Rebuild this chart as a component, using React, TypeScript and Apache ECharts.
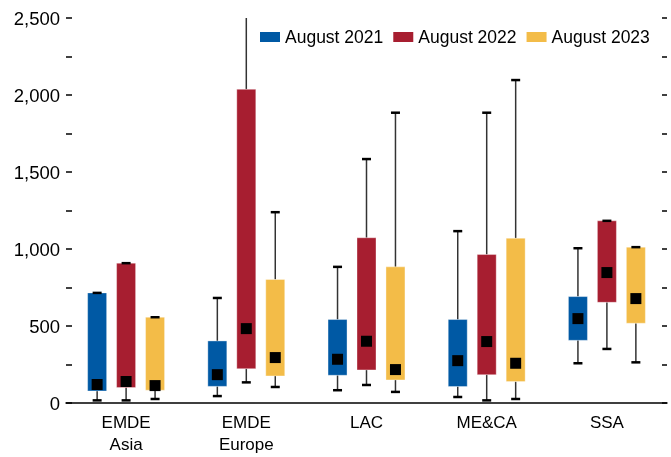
import React, { useEffect, useRef } from "react";
import * as echarts from "echarts";

const categories = ["EMDE\nAsia", "EMDE\nEurope", "LAC", "ME&CA", "SSA"];
const seriesNames = ["August 2021", "August 2022", "August 2023"];
const seriesColors = ["#0059A4", "#A71E30", "#F3BC48"];

// each row: [min, q1, median, q3, max]
const aug2021 = [
  [17, 78, 120, 715, 715],
  [45, 108, 184, 403, 682],
  [83, 180, 284, 542, 884],
  [39, 107, 275, 542, 1116],
  [258, 407, 548, 691, 1005],
];
const aug2022 = [
  [17, 100, 139, 908, 908],
  [134, 223, 483, 2037, 2600],
  [117, 215, 401, 1073, 1584],
  [17, 184, 399, 964, 1885],
  [351, 654, 847, 1183, 1183],
];
const aug2023 = [
  [26, 83, 113, 557, 557],
  [104, 176, 295, 802, 1239],
  [72, 150, 217, 884, 1885],
  [26, 139, 258, 1070, 2097],
  [264, 518, 678, 1012, 1012],
];
const seriesData = [aug2021, aug2022, aug2023];

const Y_MIN = 0;
const Y_MAX = 2500;
const Y_STEP = 250;
const LABEL_STEP = 500;

const FONT = "'Liberation Sans', Arial, sans-serif";

function makeRender(seriesIdx: number, color: string) {
  return (params: any, api: any) => {
    const cat = api.value(0);
    const mn = api.value(1);
    const q1 = api.value(2);
    const med = api.value(3);
    const q3 = api.value(4);
    const mx = api.value(5);
    const bandW = api.size([1, 0])[0];
    const offset = (seriesIdx - 1) * bandW * 0.241;
    const boxW = bandW * 0.158;
    const cx = api.coord([cat, 0])[0] + offset;
    const y = (v: number) => api.coord([cat, Math.min(v, Y_MAX)])[1];
    const capW = 9;
    const medS = 11;
    const children: any[] = [];
    const whisker = { stroke: "#333", lineWidth: 1.5 };
    children.push({
      type: "line",
      shape: { x1: cx, y1: y(mn), x2: cx, y2: y(q1) },
      style: whisker,
    });
    children.push({
      type: "line",
      shape: { x1: cx, y1: y(q3), x2: cx, y2: y(mx) },
      style: whisker,
    });
    children.push({
      type: "rect",
      shape: { x: cx - boxW / 2, y: y(q3), width: boxW, height: y(q1) - y(q3) },
      style: { fill: color, stroke: "rgba(255,255,255,0.35)", lineWidth: 1 },
    });
    children.push({
      type: "line",
      shape: { x1: cx - capW / 2, y1: y(mn), x2: cx + capW / 2, y2: y(mn) },
      style: { stroke: "#000", lineWidth: 2.5 },
    });
    if (mx <= Y_MAX) {
      children.push({
        type: "line",
        shape: { x1: cx - capW / 2, y1: y(mx), x2: cx + capW / 2, y2: y(mx) },
        style: { stroke: "#000", lineWidth: 2.5 },
      });
    }
    children.push({
      type: "rect",
      shape: { x: cx - medS / 2, y: y(med) - medS / 2, width: medS, height: medS },
      style: { fill: "#000" },
    });
    return { type: "group", children };
  };
}

export default function App() {
  const ref = useRef<HTMLDivElement>(null);
  useEffect(() => {
    if (!ref.current) return;
    const chart = echarts.init(ref.current, null, { renderer: "svg" });
    const option: any = {
      animation: false,
      textStyle: { fontFamily: FONT },
      legend: {
        data: seriesNames,
        icon: "rect",
        itemWidth: 20,
        itemHeight: 10,
        itemGap: 10,
        left: 255,
        top: 23,
        textStyle: { fontSize: 17.5, color: "#000", fontFamily: FONT },
      },
      grid: { left: 66, right: 4, top: 18, bottom: 54, containLabel: false },
      xAxis: {
        type: "category",
        data: categories,
        axisLine: { lineStyle: { color: "#000", width: 1.5 } },
        axisTick: { inside: true, length: 10, lineStyle: { color: "#000", width: 1.5 } },
        axisLabel: { fontSize: 17, lineHeight: 22.5, margin: 8, color: "#000", fontFamily: FONT },
        splitLine: { show: false },
      },
      yAxis: [
        {
          type: "value",
          min: Y_MIN,
          max: Y_MAX,
          interval: Y_STEP,
          axisLine: { show: false },
          axisTick: { show: true, inside: true, length: 6, lineStyle: { color: "#000", width: 1.5 } },
          axisLabel: {
            fontSize: 18.5,
            color: "#000",
            margin: 6,
            fontFamily: FONT,
            formatter: (v: number) => (v % LABEL_STEP === 0 ? v.toLocaleString("en-US") : ""),
          },
          splitLine: { show: false },
        },
        {
          type: "value",
          position: "right",
          min: Y_MIN,
          max: Y_MAX,
          interval: Y_STEP,
          axisLine: { show: false },
          axisTick: { show: true, inside: true, length: 5, lineStyle: { color: "#000", width: 1.5 } },
          axisLabel: { show: false },
          splitLine: { show: false },
        },
      ],
      series: seriesNames.map((name, i) => ({
        name,
        type: "custom",
        yAxisIndex: 0,
        itemStyle: { color: seriesColors[i] },
        renderItem: makeRender(i, seriesColors[i]),
        encode: { x: 0, y: [1, 2, 3, 4, 5] },
        data: seriesData[i].map((row, c) => [c, ...row]),
      })),
    };
    chart.setOption(option);
    return () => chart.dispose();
  }, []);
  return (
    <div
      ref={ref}
      style={{ position: "fixed", left: 0, top: 0, width: 671, height: 457 }}
    />
  );
}
